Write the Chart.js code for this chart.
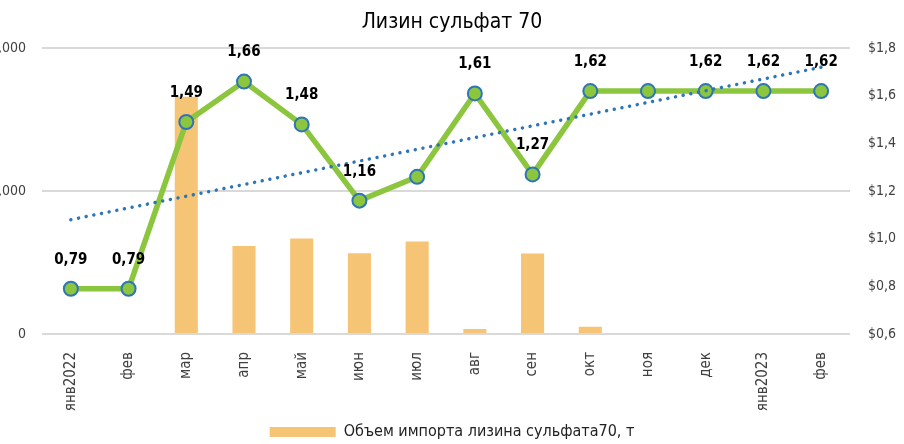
<!DOCTYPE html>
<html>
<head>
<meta charset="utf-8">
<script src="https://cdn.jsdelivr.net/npm/chart.js@4/dist/chart.umd.min.js"></script>
<style>
  html, body { margin: 0; padding: 0; background: #fff; }
  #wrap { position: relative; width: 904px; height: 444px; }
</style>
</head>
<body>
<div id="wrap"><canvas id="chart"></canvas></div>
<script>
const FONT = "'Liberation Sans Narrow', 'DejaVu Sans Condensed', 'Roboto', sans-serif";

const months = ['янв2022', 'фев', 'мар', 'апр', 'май', 'июн', 'июл', 'авг', 'сен', 'окт', 'ноя', 'дек', 'янв2023', 'фев'];
const importVolume = [0, 0, 3320, 1230, 1335, 1130, 1295, 70, 1125, 100, 0, 0, 0, 0];
const price = [0.79, 0.79, 1.49, 1.66, 1.48, 1.16, 1.26, 1.61, 1.27, 1.62, 1.62, 1.62, 1.62, 1.62];
const trend = [1.08, null, null, null, null, null, null, null, null, null, null, null, null, 1.72];
const hiddenLabels = [6, 10];
const leftTicks = [0, 2000, 4000];
const rightTicks = [0.6, 0.8, 1.0, 1.2, 1.4, 1.6, 1.8];

const fmt = v => v.toFixed(2).replace('.', ',');

const priceLabels = {
    id: 'priceLabels',
    afterDatasetsDraw(chart) {
        const meta = chart.getDatasetMeta(1);
        const ctx = chart.ctx;
        ctx.save();
        ctx.font = 'bold 15px ' + FONT;
        ctx.fillStyle = '#000';
        ctx.textAlign = 'center';
        ctx.textBaseline = 'middle';
        meta.data.forEach((pt, i) => {
            if (hiddenLabels.includes(i)) return;
            ctx.fillText(fmt(price[i]), pt.x, pt.y - 29);
        });
        ctx.restore();
    }
};

new Chart(document.getElementById('chart'), {
    type: 'bar',
    data: {
        labels: months,
        datasets: [
            {
                type: 'bar',
                label: 'Объем импорта лизина сульфата70, т',
                data: importVolume,
                backgroundColor: '#f6c475',
                yAxisID: 'y',
                barPercentage: 0.8,
                categoryPercentage: 0.5,
                order: 3
            },
            {
                type: 'line',
                label: 'Цена',
                data: price,
                yAxisID: 'y1',
                borderColor: '#8cc63f',
                borderWidth: 5.5,
                pointRadius: 7,
                pointBackgroundColor: '#8cc63f',
                pointBorderColor: '#2e75b6',
                pointBorderWidth: 2,
                tension: 0,
                order: 2
            },
            {
                type: 'line',
                label: 'Тренд',
                data: trend,
                yAxisID: 'y1',
                spanGaps: true,
                borderColor: '#2e75b6',
                borderWidth: 3.5,
                borderDash: [0.01, 7.8],
                borderCapStyle: 'round',
                pointRadius: 0,
                order: 1
            }
        ]
    },
    options: {
        responsive: true,
        maintainAspectRatio: false,
        animation: false,
        layout: { padding: { top: 0, left: 0, right: 0, bottom: -6 } },
        plugins: {
            title: {
                display: true,
                text: 'Лизин сульфат 70',
                color: '#000',
                font: { family: FONT, size: 21, weight: 'normal' },
                padding: { top: 10, bottom: 13 }
            },
            legend: {
                position: 'bottom',
                labels: {
                    filter: item => item.datasetIndex === 0,
                    boxWidth: 66,
                    boxHeight: 10,
                    color: '#222',
                    font: { family: FONT, size: 16 },
                    padding: 4
                }
            },
            tooltip: { enabled: false }
        },
        scales: {
            x: {
                grid: { display: false },
                border: { display: false },
                ticks: {
                    color: '#404040',
                    font: { family: FONT, size: 15 },
                    minRotation: 90,
                    maxRotation: 90,
                    padding: 10
                },
                afterFit: s => { s.height = 86; }
            },
            y: {
                position: 'left',
                min: 0,
                max: 4000,
                afterBuildTicks: s => { s.ticks = leftTicks.map(v => ({ value: v })); },
                grid: { color: '#d9d9d9', lineWidth: 2, drawTicks: false },
                border: { display: false },
                ticks: {
                    color: '#404040',
                    font: { family: FONT, size: 14 },
                    padding: 16
                },
                afterFit: s => { s.width = 42; }
            },
            y1: {
                position: 'right',
                min: 0.6,
                max: 1.8,
                afterBuildTicks: s => { s.ticks = rightTicks.map(v => ({ value: v })); },
                grid: { display: false, drawTicks: false },
                border: { display: false },
                ticks: {
                    color: '#404040',
                    font: { family: FONT, size: 14 },
                    padding: 18,
                    callback: v => '$' + v.toFixed(1).replace('.', ',')
                },
                afterFit: s => { s.width = 54; }
            }
        }
    },
    plugins: [priceLabels]
});
</script>
</body>
</html>
